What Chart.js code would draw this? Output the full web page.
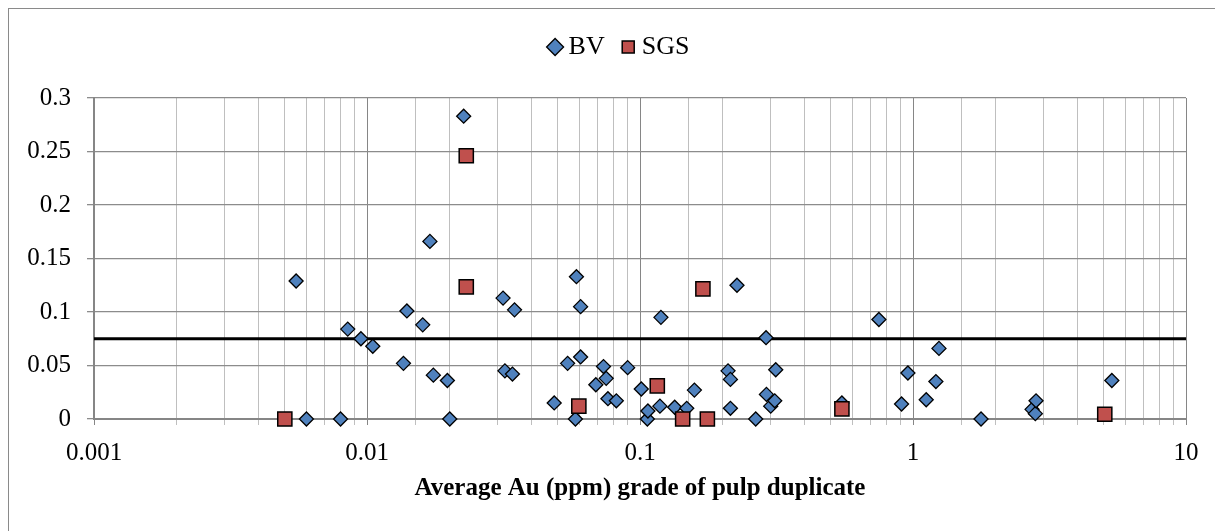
<!DOCTYPE html>
<html>
<head>
<meta charset="utf-8">
<script src="https://cdn.jsdelivr.net/npm/chart.js@4.4.1/dist/chart.umd.min.js"></script>
<style>
    body { margin: 0; background: #fff; overflow: hidden; }
    #wrap { position: relative; width: 1215px; height: 531px; }
    #frame { position: absolute; left: 8px; top: 8px; width: 1400px; height: 700px;
             border-left: 1px solid #8a8a8a; border-top: 1px solid #8a8a8a; }
    #dupChart { position: absolute; left: 0; top: 0; }
</style>
</head>
<body>
<div id="wrap">
    <div id="frame"></div>
    <canvas id="dupChart" width="1215" height="531"></canvas>
</div>
<script>
// BV pulp duplicates
const bvX = [0.0055, 0.0060, 0.0080, 0.0085, 0.0095, 0.0105, 0.0136, 0.0140, 0.0160, 0.0170,
    0.0175, 0.0197, 0.0201, 0.0226, 0.0315, 0.0320, 0.0341, 0.0347, 0.0485, 0.0543,
    0.0580, 0.0585, 0.0606, 0.0606, 0.0689, 0.0735, 0.0752, 0.0763, 0.0819, 0.0901,
    0.1011, 0.1064, 0.1069, 0.1183, 0.1193, 0.1340, 0.1483, 0.1582, 0.2101, 0.2144,
    0.2144, 0.2266, 0.2654, 0.2895, 0.2905, 0.3012, 0.3116, 0.3142, 0.549, 0.750,
    0.908, 0.958, 1.118, 1.213, 1.245, 1.775, 2.729, 2.806, 2.823, 5.35];
const bvY = [0.129, 0, 0, 0.084, 0.075, 0.068, 0.052, 0.101, 0.088, 0.166,
    0.041, 0.036, 0, 0.283, 0.113, 0.045, 0.042, 0.102, 0.015, 0.052,
    0, 0.133, 0.105, 0.058, 0.032, 0.049, 0.038, 0.019, 0.017, 0.048,
    0.028, 0, 0.0075, 0.012, 0.095, 0.011, 0.010, 0.027, 0.045, 0.037,
    0.010, 0.125, 0, 0.076, 0.023, 0.012, 0.017, 0.046, 0.015, 0.093,
    0.014, 0.043, 0.018, 0.035, 0.066, 0, 0.009, 0.005, 0.017, 0.036];

// SGS pulp duplicates
const sgsX = [0.0050, 0.0231, 0.0231, 0.0597, 0.1157, 0.1433, 0.170, 0.1765, 0.549, 5.04];
const sgsY = [0, 0.246, 0.1235, 0.012, 0.031, 0, 0.1216, 0, 0.0094, 0.0044];

// acceptance limit line
const limitX = [0.001, 10];
const limitY = [0.075, 0.075];

// axis ticks
const xMajorTicks = [0.001, 0.01, 0.1, 1, 10];
const xTickLabels = ['0.001', '0.01', '0.1', '1', '10'];
const yTicks = [0, 0.05, 0.1, 0.15, 0.2, 0.25, 0.3];
const yTickLabels = ['0', '0.05', '0.1', '0.15', '0.2', '0.25', '0.3'];

function toPoints(xs, ys) {
    return xs.map((x, i) => ({ x: x, y: ys[i] }));
}

function majorIndex(v) {
    return xMajorTicks.findIndex(m => Math.abs(Math.log10(v) - Math.log10(m)) < 1e-6);
}

const serif = "'Liberation Serif', 'Times New Roman', serif";

// the legend in the original sits a little right of the canvas centre
const legendShift = {
    id: 'legendShift',
    afterLayout(chart) {
        chart.legend.left += 24;
        chart.legend.right += 24;
    }
};

const ctx = document.getElementById('dupChart').getContext('2d');
const dupChart = new Chart(ctx, {
    type: 'scatter',
    data: {
        datasets: [
            {
                label: 'BV',
                data: toPoints(bvX, bvY),
                pointStyle: 'rectRot',
                pointRadius: 7,
                pointHoverRadius: 7,
                backgroundColor: '#4F81BD',
                borderColor: '#000',
                borderWidth: 1.3,
                clip: false,
                order: 2
            },
            {
                label: 'SGS',
                data: toPoints(sgsX, sgsY),
                pointStyle: 'rect',
                pointRadius: 10,
                pointHoverRadius: 10,
                backgroundColor: '#C0504D',
                borderColor: '#000',
                borderWidth: 1.5,
                clip: false,
                order: 1
            },
            {
                label: 'limit',
                type: 'line',
                data: toPoints(limitX, limitY),
                borderColor: '#000',
                borderWidth: 3,
                pointRadius: 0,
                fill: false,
                order: 3
            }
        ]
    },
    plugins: [legendShift],
    options: {
        responsive: false,
        animation: false,
        layout: {
            padding: { left: 10, right: 29, top: 11, bottom: 0 }
        },
        plugins: {
            legend: {
                position: 'top',
                labels: {
                    usePointStyle: true,
                    boxWidth: 1,
                    boxHeight: 12,
                    padding: 23,
                    color: '#000',
                    font: { family: serif, size: 26 },
                    filter: item => item.datasetIndex < 2,
                    sort: (a, b) => a.datasetIndex - b.datasetIndex
                }
            },
            // empty title used only as a spacer between legend and plot
            title: {
                display: true,
                text: ' ',
                weight: 500,
                font: { size: 10 },
                padding: { top: 0, bottom: 16 }
            },
            tooltip: { enabled: false }
        },
        scales: {
            x: {
                type: 'logarithmic',
                min: 0.001,
                max: 10,
                afterFit: function (scale) {
                    scale.height = 112;
                    scale.paddingLeft = 0;
                    scale.paddingRight = 0;
                },
                grid: {
                    color: c => (c.tick && majorIndex(c.tick.value) >= 0) ? '#868686' : '#bfbfbf',
                    lineWidth: 1,
                    tickLength: 6
                },
                border: { color: '#868686', width: 2 },
                ticks: {
                    autoSkip: false,
                    maxRotation: 0,
                    padding: 13,
                    color: '#000',
                    font: { family: serif, size: 25 },
                    callback: function (value) {
                        const i = majorIndex(value);
                        return i >= 0 ? xTickLabels[i] : '';
                    }
                },
                title: {
                    display: true,
                    text: 'Average Au (ppm) grade of pulp duplicate',
                    color: '#000',
                    font: { family: serif, size: 25, weight: 'bold' },
                    padding: { top: 0, bottom: 27 }
                }
            },
            y: {
                min: 0,
                max: 0.3,
                afterBuildTicks: function (scale) {
                    scale.ticks = yTicks.map(v => ({ value: v }));
                },
                afterFit: function (scale) {
                    scale.width = 84;
                    scale.paddingTop = 0;
                    scale.paddingBottom = 0;
                },
                grid: {
                    color: '#8c8c8c',
                    lineWidth: 1.3,
                    tickLength: 7
                },
                border: { color: '#868686', width: 2 },
                ticks: {
                    padding: 16,
                    color: '#000',
                    font: { family: serif, size: 25 },
                    callback: (value, index) => yTickLabels[index]
                }
            }
        }
    }
});
</script>
</body>
</html>
